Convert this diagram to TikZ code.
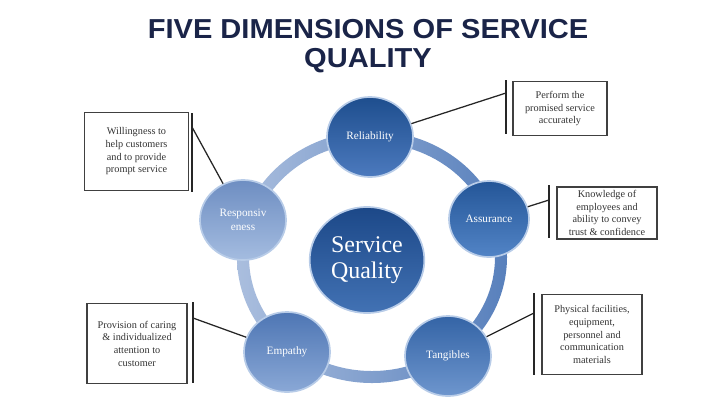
\documentclass[tikz,border=0pt]{standalone}
\usepackage{fontspec}
\setmainfont{Liberation Serif}
\newfontfamily\titlefont[FakeStretch=1.06]{Liberation Sans}
\usetikzlibrary{
	scopes, backgrounds,
	shapes.geometric
}
\definecolor{titulo}{RGB}{26,36,72}
\definecolor{anilloclaro}{RGB}{170,190,222}
\definecolor{anillooscuro}{RGB}{88,128,188}
\definecolor{borde}{RGB}{184,204,232}
\def\W{720}
\def\H{404}

\begin{document}
\begin{tikzpicture}[
	x = 0.025cm, y = -0.025cm,
	bola/.style = {
		ellipse, draw = borde, line width = 1.2pt,
		minimum width = 2.15cm, minimum height = 2cm,
		text = white, align = center,
		font = \fontsize{8}{9.5}\selectfont
	},
	caja/.style = {
		draw = black!75, line width = 0.8pt, align = center,
		minimum width = 2.5cm, inner sep = 1pt,
		font = \fontsize{7.3}{9}\selectfont, text = black!80
	},
	barra/.style = {black!85, line width = 1.3pt},
	enlace/.style = {black!85, line width = 0.9pt}
]

	% márgenes del dibujo
	\useasboundingbox (0,0) rectangle (\W,\H);

	% título
	\node[text = titulo, align = center,
		font = \titlefont\bfseries\fontsize{19.5}{20.6}\selectfont]
		(titulo) at (368,46) {FIVE DIMENSIONS OF SERVICE\\QUALITY};

	% círculos
	\node[bola, minimum width = 2.83cm, minimum height = 2.65cm,
		top color = {rgb,255:red,28;green,72;blue,136},
		bottom color = {rgb,255:red,66;green,114;blue,180},
		font = \fontsize{17}{18}\selectfont]
		(sq) at (367,260) {Service\\Quality};

	\node[bola, top color = {rgb,255:red,30;green,78;blue,142},
		bottom color = {rgb,255:red,76;green,122;blue,190}]
		(rel) at (370,137) {Reliability};
	\node[bola, minimum width = 2cm, minimum height = 1.9cm,
		top color = {rgb,255:red,36;green,86;blue,152},
		bottom color = {rgb,255:red,82;green,132;blue,198}]
		(asu) at (489,219) {Assurance};
	\node[bola, top color = {rgb,255:red,52;green,100;blue,166},
		bottom color = {rgb,255:red,110;green,150;blue,206}]
		(tan) at (448,356) {Tangibles};
	\node[bola, top color = {rgb,255:red,78;green,118;blue,180},
		bottom color = {rgb,255:red,138;green,168;blue,214}]
		(emp) at (287,352) {Empathy};
	\node[bola, top color = {rgb,255:red,110;green,142;blue,194},
		bottom color = {rgb,255:red,164;green,188;blue,224}]
		(res) at (243,220) {Responsiv\\eness};

	% anillo
	{[on background layer]
	\shade[left color = anilloclaro, right color = anillooscuro, even odd rule]
		(372,257) ellipse [x radius = 135, y radius = 126]
		(372,257) ellipse [x radius = 123, y radius = 114];
	}

	% cajas de texto
	\node[caja, minimum width = 2.58cm, minimum height = 1.93cm]
		(cres) at (136.5,151.5)
		{Willingness to\\help customers\\and to provide\\prompt service};
	\node[caja, minimum width = 2.35cm, minimum height = 1.33cm]
		(crel) at (560,108.5)
		{Perform the\\promised service\\accurately};
	\node[caja, minimum height = 1.3cm]
		(casu) at (607,213)
		{Knowledge of\\employees and\\ability to convey\\trust \& confidence};
	\node[caja, minimum height = 1.98cm]
		(cemp) at (137,343.5)
		{Provision of caring\\\& individualized\\attention to\\customer};
	\node[caja, minimum height = 1.98cm]
		(ctan) at (592,334.5)
		{Physical facilities,\\equipment,\\personnel and\\communication\\materials};

	% barras verticales
	\draw[barra] (192,113) -- (192,192);
	\draw[barra] (506,80) -- (506,134);
	\draw[barra] (549,185) -- (549,238);
	\draw[barra] (193,302) -- (193,383);
	\draw[barra] (534,293) -- (534,375);

	% puntos de enlace sobre las barras
	\coordinate (bres) at (192,127);
	\coordinate (brel) at (506,93);
	\coordinate (basu) at (549,200);
	\coordinate (bemp) at (193,318);
	\coordinate (btan) at (534,313);

	% enlaces
	\foreach \b/\c in {bres/res, brel/rel, basu/asu, bemp/emp, btan/tan}
		\draw[enlace] (\b) -- (\c);

\end{tikzpicture}
\end{document}
